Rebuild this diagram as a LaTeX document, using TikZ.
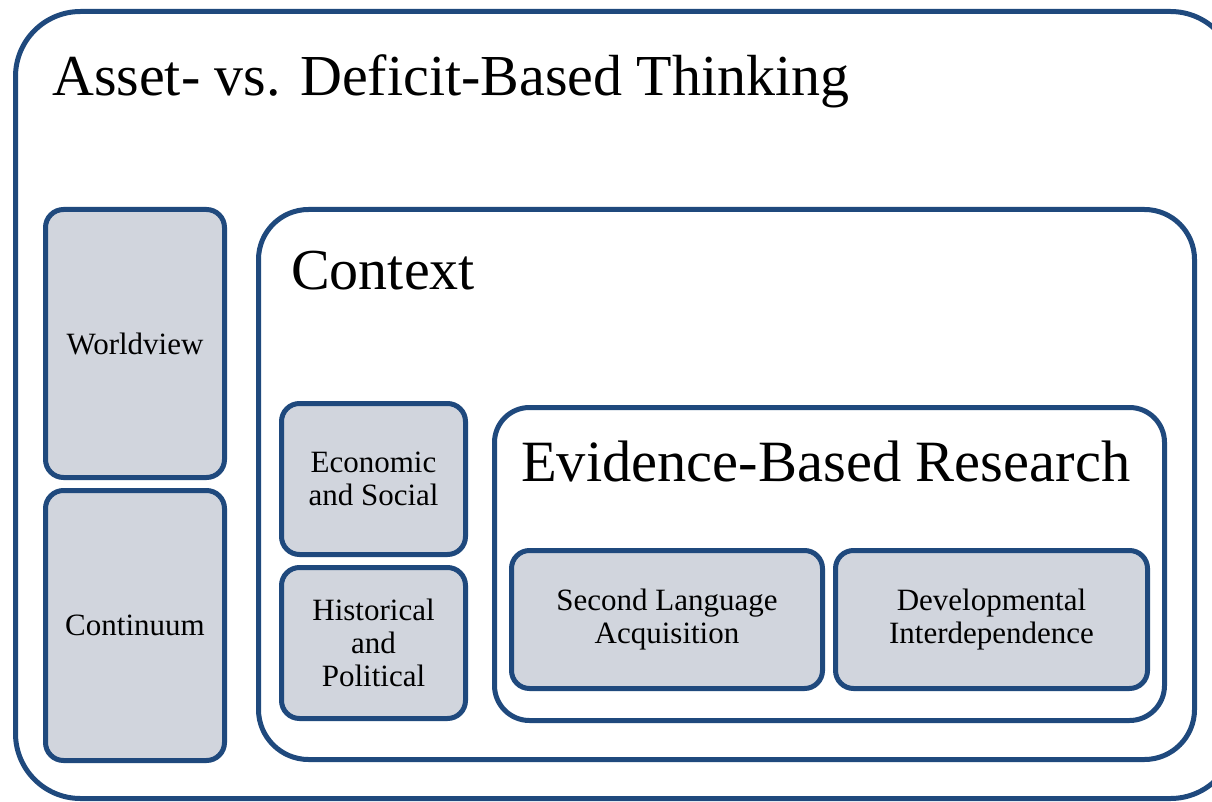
\documentclass[tikz,border=0pt]{standalone}
\usepackage{fontspec}
\setmainfont{Liberation Serif}
\definecolor{frameblue}{HTML}{1F497D}
\definecolor{boxgray}{HTML}{D1D5DD}

\begin{document}
\begin{tikzpicture}[x=1pt,y=-1pt]
      \tikzset{frame/.style={draw=frameblue,line width=5pt,fill=white,anchor=north west,inner sep=0pt,outer sep=0pt},
               leaf/.style={frame,fill=boxgray,rounded corners=18pt,align=center,anchor=center,
                            font=\fontsize{31}{33}\selectfont},
               heading/.style={anchor=base west,inner sep=0pt,font=\fontsize{58}{66}\selectfont}}
      \useasboundingbox (0,0) rectangle (1212,802);
      \node[frame,rounded corners=65pt,minimum width=1220,minimum height=787] (outer) at (15.5,11.5) {};
      \node[heading] (outertitle) at (52,96) {Asset- vs. Deficit-Based Thinking};
      \node[leaf,minimum width=179,minimum height=268] (world) at (135,343.5) {Worldview};
      \node[leaf,minimum width=179,minimum height=270] (cont) at (135,625.5) {Continuum};
      \node[frame,rounded corners=50pt,minimum width=936,minimum height=550] (context) at (258.5,209.5) {};
      \node[heading] (contexttitle) at (291,290) {Context};
      \node[leaf,minimum width=184,minimum height=151] (econ) at (373.5,479) {Economic\\and Social};
      \node[leaf,minimum width=184,minimum height=151] (hist) at (373.5,643) {Historical\\and\\Political};
      \node[frame,rounded corners=35pt,minimum width=670,minimum height=313] (evid) at (494.5,407.5) {};
      \node[heading,font=\fontsize{58.5}{66}\selectfont] (evidtitle) at (521,481) {Evidence-Based Research};
      \node[leaf,minimum width=311,minimum height=138] (sla) at (667,619.5) {Second Language\\Acquisition};
      \node[leaf,minimum width=312,minimum height=138] (dev) at (991.5,619.5) {Developmental\\Interdependence};
\end{tikzpicture}
\end{document}
